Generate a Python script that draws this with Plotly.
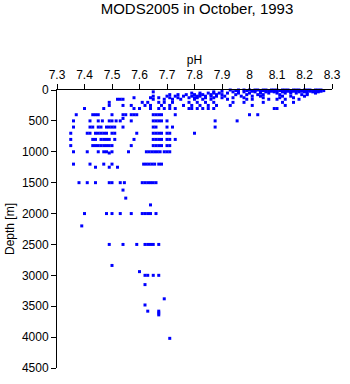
import plotly.graph_objects as go

# pH readings grouped by sampling depth (m)
ph_0m = [7.93, 7.96, 7.98, 8.00, 8.02, 8.03, 8.05, 8.06, 8.08, 8.09, 8.10, 8.12, 8.13, 8.14, 8.16, 8.17, 8.18, 8.20, 8.21, 8.22, 8.24, 8.25, 8.26]
ph_10m = [7.95, 7.99, 8.01, 8.02, 8.04, 8.05, 8.07, 8.09, 8.11, 8.12, 8.13, 8.15, 8.17, 8.18, 8.19, 8.21, 8.23, 8.24, 8.25, 8.27]
ph_20m = [7.90, 7.96, 8.01, 8.04, 8.06, 8.08, 8.10, 8.13, 8.14, 8.16, 8.19, 8.20, 8.22, 8.25, 8.26]
ph_30m = [7.65, 7.87, 7.94, 7.98, 8.02, 8.04, 8.06, 8.09, 8.12, 8.15, 8.18, 8.20, 8.23, 8.25]
ph_50m = [7.79, 7.82, 7.85, 7.87, 7.89, 7.92, 7.96, 8.00, 8.04, 8.07, 8.10, 8.13, 8.15, 8.17, 8.21, 8.24]
ph_75m = [7.71, 7.74, 7.77, 7.80, 7.82, 7.83, 7.86, 7.88, 7.90, 7.95, 7.99, 8.03, 8.05, 8.11, 8.19, 8.21]
ph_100m = [7.65, 7.70, 7.73, 7.76, 7.79, 7.81, 7.82, 7.84, 7.86, 7.88, 7.91, 7.97, 8.01, 8.04, 8.12, 8.15, 8.20]
ph_125m = [7.58, 7.64, 7.67, 7.71, 7.74, 7.78, 7.80, 7.81, 7.84, 7.87, 7.90, 7.94, 7.98, 8.05, 8.11, 8.16]
ph_150m = [7.52, 7.53, 7.54, 7.65, 7.69, 7.72, 7.75, 7.80, 7.83, 7.86, 7.92, 7.99, 8.01, 8.07, 8.10, 8.13, 8.18]
ph_200m = [7.49, 7.61, 7.63, 7.67, 7.69, 7.72, 7.78, 7.81, 7.84, 7.87, 7.94, 7.98, 8.05, 8.12, 8.16]
ph_250m = [7.49, 7.54, 7.57, 7.62, 7.64, 7.68, 7.71, 7.76, 7.79, 7.82, 7.85, 7.88, 7.93, 8.01, 8.13]
ph_300m = [7.40, 7.47, 7.58, 7.60, 7.64, 7.67, 7.69, 7.71, 7.73, 7.78, 7.79, 7.81, 7.83, 7.85, 7.87, 8.09, 8.10]
ph_400m = [7.37, 7.43, 7.44, 7.45, 7.50, 7.54, 7.55, 7.57, 7.58, 7.59, 7.65, 7.66, 7.67, 7.68, 7.73, 8.00, 8.03]
ph_460m = [7.54]
ph_500m = [7.36, 7.42, 7.45, 7.465, 7.49, 7.50, 7.515, 7.53, 7.57, 7.65, 7.66, 7.67, 7.68, 7.70, 7.875, 7.955]
ph_600m = [7.36, 7.42, 7.43, 7.45, 7.46, 7.48, 7.49, 7.50, 7.51, 7.54, 7.65, 7.66, 7.70, 7.72, 7.875]
ph_700m = [7.35, 7.41, 7.42, 7.44, 7.45, 7.46, 7.47, 7.48, 7.50, 7.51, 7.59, 7.65, 7.66, 7.67, 7.68, 7.70, 7.71, 7.80]
ph_800m = [7.35, 7.43, 7.44, 7.46, 7.47, 7.48, 7.49, 7.51, 7.58, 7.65, 7.66, 7.67, 7.68, 7.70, 7.71, 7.73]
ph_900m = [7.35, 7.43, 7.44, 7.45, 7.46, 7.47, 7.48, 7.49, 7.50, 7.57, 7.65, 7.66, 7.67, 7.68, 7.70, 7.71]
ph_1000m = [7.36, 7.41, 7.45, 7.47, 7.48, 7.50, 7.56, 7.625, 7.635, 7.645, 7.655, 7.665, 7.675, 7.69, 7.70, 7.71]
ph_1020m = [7.49]
ph_1200m = [7.36, 7.42, 7.47, 7.50, 7.615, 7.625, 7.635, 7.645, 7.655, 7.67, 7.68]
ph_1250m = [7.44, 7.49, 7.52]
ph_1500m = [7.38, 7.41, 7.44, 7.49, 7.50, 7.53, 7.545, 7.61, 7.62, 7.63, 7.64, 7.65, 7.66]
ph_1620m = [7.54]
ph_1750m = [7.55]
ph_1860m = [7.64]
ph_2000m = [7.40, 7.48, 7.50, 7.53, 7.57, 7.61, 7.62, 7.63, 7.64, 7.66]
ph_2200m = [7.39]
ph_2500m = [7.49, 7.54, 7.59, 7.62, 7.63, 7.64, 7.65, 7.67]
ph_2840m = [7.50]
ph_2940m = [7.60]
ph_3000m = [7.62, 7.63, 7.65, 7.67]
ph_3150m = [7.62]
ph_3380m = [7.69]
ph_3480m = [7.62]
ph_3580m = [7.63, 7.67]
ph_3610m = [7.67]
ph_3640m = [7.67]
ph_4020m = [7.71]

levels = [
    (0, ph_0m), (10, ph_10m), (20, ph_20m), (30, ph_30m), (50, ph_50m),
    (75, ph_75m), (100, ph_100m), (125, ph_125m), (150, ph_150m),
    (200, ph_200m), (250, ph_250m), (300, ph_300m), (400, ph_400m),
    (460, ph_460m), (500, ph_500m), (600, ph_600m), (700, ph_700m),
    (800, ph_800m), (900, ph_900m), (1000, ph_1000m), (1020, ph_1020m),
    (1200, ph_1200m), (1250, ph_1250m), (1500, ph_1500m), (1620, ph_1620m),
    (1750, ph_1750m), (1860, ph_1860m), (2000, ph_2000m), (2200, ph_2200m),
    (2500, ph_2500m), (2840, ph_2840m), (2940, ph_2940m), (3000, ph_3000m),
    (3150, ph_3150m), (3380, ph_3380m), (3480, ph_3480m), (3580, ph_3580m),
    (3610, ph_3610m), (3640, ph_3640m), (4020, ph_4020m),
]

x_ticks = [7.3, 7.4, 7.5, 7.6, 7.7, 7.8, 7.9, 8.0, 8.1, 8.2, 8.3]
x_tick_labels = ["7.3", "7.4", "7.5", "7.6", "7.7", "7.8", "7.9", "8", "8.1", "8.2", "8.3"]
y_ticks = [0, 500, 1000, 1500, 2000, 2500, 3000, 3500, 4000, 4500]

xs, ys = [], []
for d, vals in levels:
    for v in vals:
        xs.append(v)
        ys.append(d)

fig = go.Figure(go.Scatter(
    x=xs, y=ys, mode="markers",
    marker=dict(symbol="square", size=3, color="#0000ff", line=dict(width=0)),
    cliponaxis=False, hoverinfo="x+y",
))

font = "Liberation Sans, Arial, sans-serif"
fig.update_layout(
    width=350, height=384,
    margin=dict(l=54, r=10, t=90, b=9),
    paper_bgcolor="white", plot_bgcolor="white",
    showlegend=False,
    font=dict(family=font, size=12, color="black"),
    title=dict(text="MODS2005 in October, 1993", x=197/350, xanchor="center",
               y=1 - 9/384, yanchor="middle", yref="container",
               font=dict(family=font, size=15, color="black")),
    xaxis=dict(side="top", range=[7.3, 8.3], tickvals=x_ticks, ticktext=x_tick_labels,
               showgrid=False, zeroline=False, showline=True, linecolor="black", linewidth=1,
               ticks="outside", ticklen=5, tickcolor="black", tickwidth=1,
               tickfont=dict(family=font, size=12),
               title=dict(text="pH", standoff=1, font=dict(family=font, size=12))),
    yaxis=dict(range=[4500, 0], tickvals=y_ticks,
               showgrid=False, zeroline=False, showline=True, linecolor="black", linewidth=1,
               ticks="outside", ticklen=5, tickcolor="black", tickwidth=1,
               tickfont=dict(family=font, size=12),
               title=dict(text="Depth [m]", standoff=4, font=dict(family=font, size=12))),
)

fig.write_html("out.html")
